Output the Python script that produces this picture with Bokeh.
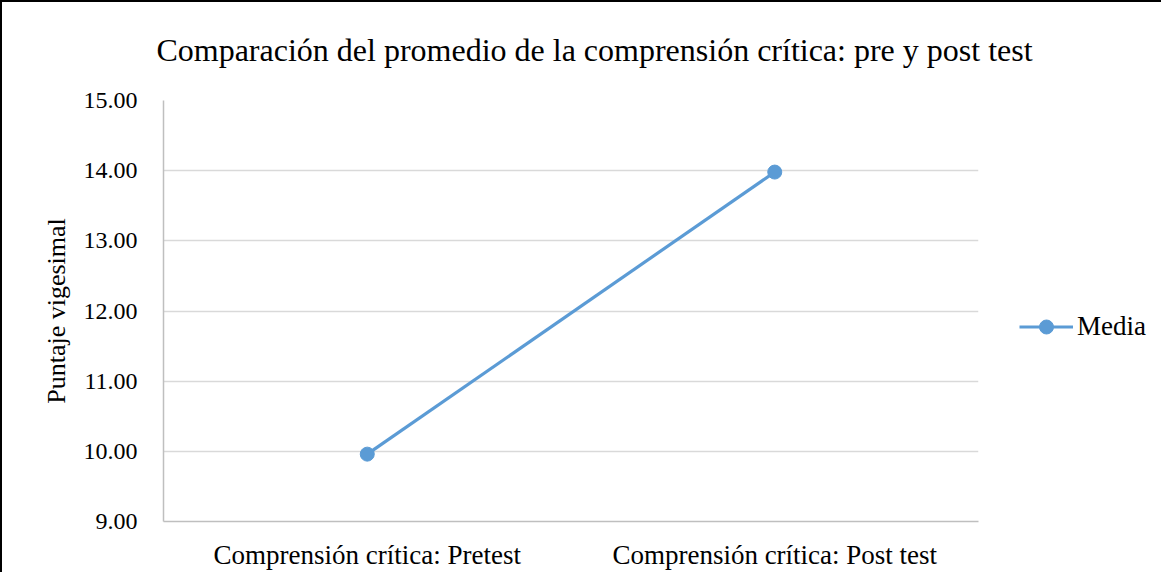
from bokeh.plotting import figure
from bokeh.layouts import row, column
from bokeh.models import FactorRange, Range1d, Legend, LegendItem, NumeralTickFormatter, FixedTicker, Div
from bokeh.embed import file_html
from bokeh.resources import INLINE

categories = ["Comprensión crítica: Pretest", "Comprensión crítica: Post test"]
media = [9.96, 13.98]
y_ticks = [9, 10, 11, 12, 13, 14, 15]
series_name = "Media"
title_text = "Comparación del promedio de la comprensión crítica: pre y post test"

FONT = "Liberation Serif"
BLUE = "#5b9bd5"

title = Div(text=title_text, width=1151, height=60,
            styles={"font-family": "'Liberation Serif'", "font-size": "32px", "color": "black",
                    "text-align": "center", "white-space": "nowrap", "padding-top": "25px",
                    "padding-left": "24px", "box-sizing": "border-box", "line-height": "1.15",
                    "overflow": "visible"})

p = figure(frame_width=815, frame_height=421, x_range=FactorRange(*categories), y_range=Range1d(9, 15),
           output_backend="svg", toolbar_location=None,
           min_border_left=161, min_border_right=1, min_border_top=28, min_border_bottom=51)

p.outline_line_color = None
p.xgrid.grid_line_color = None
p.ygrid.grid_line_color = "#d9d9d9"
p.ygrid.grid_line_width = 1.5

p.yaxis.ticker = FixedTicker(ticks=y_ticks)
p.yaxis.formatter = NumeralTickFormatter(format="0.00")
for ax in (p.xaxis[0], p.yaxis[0]):
    ax.axis_line_color = "#bfbfbf"
    ax.axis_line_width = 1.5
    ax.major_tick_line_color = None
    ax.minor_tick_line_color = None
    ax.major_label_text_font = FONT
    ax.major_label_text_color = "black"
p.yaxis.major_label_text_font_size = "24px"
p.xaxis.major_label_text_font_size = "27px"
p.yaxis.major_label_standoff = 20
p.xaxis.major_label_standoff = 12
p.yaxis.axis_label = "Puntaje vigesimal"
p.yaxis.axis_label_text_font = FONT
p.yaxis.axis_label_text_font_size = "26px"
p.yaxis.axis_label_text_font_style = "normal"
p.yaxis.axis_label_text_color = "black"
p.yaxis.axis_label_standoff = 10

p.line(categories, media, line_color=BLUE, line_width=3.2)
p.scatter(categories, media, size=14, fill_color=BLUE, line_color=BLUE)

# legend panel (series drawn outside its visible range, only its legend shows)
q = figure(width=174, height=500, x_range=p.x_range, y_range=Range1d(0, 1),
           x_axis_type=None, y_axis_type=None, output_backend="svg", toolbar_location=None,
           min_border=0)
q.outline_line_color = None
q.xgrid.visible = False
q.ygrid.visible = False
lg_line = q.line(categories, media, line_color=BLUE, line_width=3.2)
lg_mark = q.scatter(categories, media, size=14, fill_color=BLUE, line_color=BLUE)
legend = Legend(items=[LegendItem(label=series_name, renderers=[lg_line, lg_mark])], location=(40, 177))
legend.border_line_color = None
legend.background_fill_alpha = 0
legend.label_text_font = FONT
legend.label_text_font_size = "27px"
legend.label_text_color = "black"
legend.glyph_width = 54
legend.glyph_height = 35
legend.label_standoff = 4
legend.margin = 0
legend.padding = 10
q.add_layout(legend)

layout = column(title, row(p, q))
layout.styles = {"border-top": "2px solid black", "border-left": "2px solid black", "border-right": "2px solid black"}

open("out.html", "w").write(file_html(layout, INLINE))
